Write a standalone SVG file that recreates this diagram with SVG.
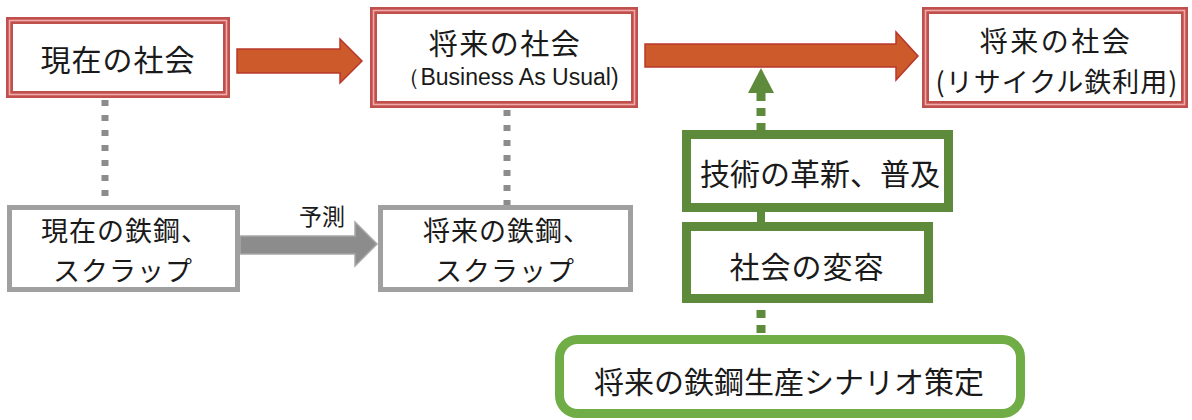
<svg xmlns="http://www.w3.org/2000/svg" width="1192" height="420" viewBox="0 0 1192 420">
<style>
.t{font-family:"Noto Sans CJK JP","Noto Sans",sans-serif;fill:#1a1a1a;text-anchor:middle;dominant-baseline:central}
.rb{fill:#fff;stroke:#C0504D;stroke-width:7}
.rp{fill:none;stroke:#F0AAA8;stroke-width:1.6}
.gb{fill:#fff;stroke:#A0A0A0;stroke-width:5}
.db{fill:#fff;stroke:#5E8B3B;stroke-width:9}
.lb{fill:#fff;stroke:#70AD47;stroke-width:9}
.ra{fill:#CC5A2A;stroke:#B8382C;stroke-width:1.5}
.ga{fill:#8C8C8C;stroke:#A8A8A8;stroke-width:1.5}
.gd{stroke:#8C8C8C;stroke-width:7;stroke-dasharray:6 9;fill:none}
.vd{stroke:#5E8B3B;stroke-width:9;stroke-dasharray:8 7;fill:none}
</style>
<rect width="1192" height="420" fill="#fff"/>
<g id="connectors">
<line class="gd" x1="105" y1="100" x2="105" y2="205"/>
<line class="gd" x1="507" y1="110" x2="507" y2="205"/>
<polygon class="ra" points="237,49 340,49 340,39 362,61 340,83 340,73 237,73"/>
<polygon class="ra" points="645,44 896,44 896,32 918,56 896,80 896,67 645,67"/>
<polygon class="ga" points="240,236 355,236 355,222 377,244 355,266 355,254 240,254"/>
<text class="t" x="322" y="215" font-size="23">予測</text>
<line class="vd" x1="761" y1="131" x2="761" y2="92"/>
<polygon fill="#5E8B3B" points="761,68 774,93 748,93"/>
<line stroke="#5E8B3B" stroke-width="8" x1="761" y1="210" x2="761" y2="224"/>
<line class="vd" x1="761" y1="333" x2="761" y2="304"/>
</g>
<g id="node-present-society">
<rect class="rb" x="9.5" y="20.5" width="217" height="74"/>
<rect class="rp" x="9.5" y="20.5" width="217" height="74"/>
<text class="t" x="118" y="58" font-size="30" letter-spacing="1">現在の社会</text>
</g>
<g id="node-future-bau">
<rect class="rb" x="373.5" y="10.5" width="261" height="94"/>
<rect class="rp" x="373.5" y="10.5" width="261" height="94"/>
<text class="t" font-size="29"><tspan x="505" y="42" letter-spacing="1.5">将来の社会</tspan><tspan x="508" y="77" font-size="23" style="font-family:'Liberation Sans',sans-serif">（Business As Usual)</tspan></text>
</g>
<g id="node-future-recycle">
<rect class="rb" x="925.5" y="10.5" width="259" height="94"/>
<rect class="rp" x="925.5" y="10.5" width="259" height="94"/>
<text class="t" font-size="28"><tspan x="1056" y="40" letter-spacing="2.5">将来の社会</tspan><tspan x="1057" y="80" font-size="27" letter-spacing="1">(リサイクル鉄利用)</tspan></text>
</g>
<g id="node-present-steel">
<rect class="gb" x="9.5" y="207.5" width="228" height="82"/>
<text class="t" font-size="27" letter-spacing="1"><tspan x="125" y="229">現在の鉄鋼、</tspan><tspan x="123" y="269">スクラップ</tspan></text>
</g>
<g id="node-future-steel">
<rect class="gb" x="380.5" y="207.5" width="250" height="82"/>
<text class="t" font-size="27" letter-spacing="1"><tspan x="507" y="229">将来の鉄鋼、</tspan><tspan x="505" y="269">スクラップ</tspan></text>
</g>
<g id="node-tech">
<rect class="db" x="686.5" y="134.5" width="262" height="73"/>
<text class="t" x="820" y="172" font-size="30">技術の革新、普及</text>
</g>
<g id="node-society-change">
<rect class="db" x="686.5" y="226.5" width="242" height="72"/>
<text class="t" x="807" y="265" font-size="30" letter-spacing="1">社会の変容</text>
</g>
<g id="node-scenario">
<rect class="lb" x="559.5" y="339.5" width="461" height="74" rx="18"/>
<text class="t" x="789" y="380" font-size="30">将来の鉄鋼生産シナリオ策定</text>
</g>
</svg>
